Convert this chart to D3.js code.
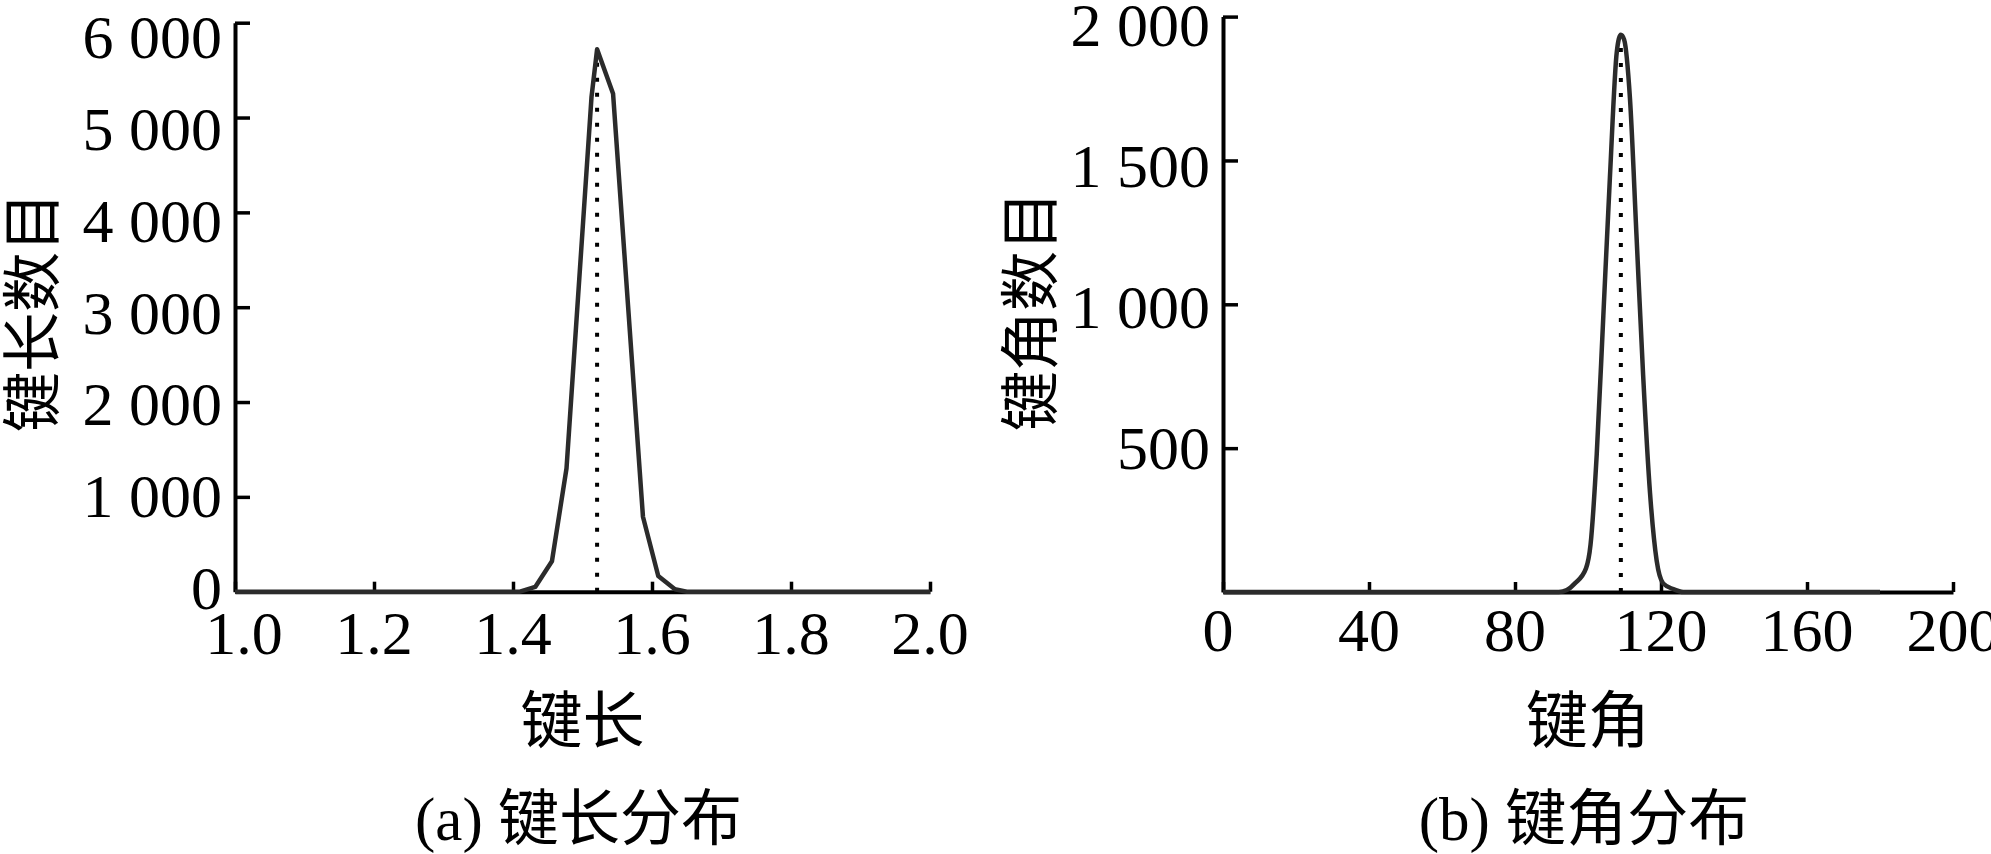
<!DOCTYPE html>
<html><head><meta charset="utf-8">
<script src="https://cdn.jsdelivr.net/npm/d3@7"></script>
<style>body{margin:0;background:#fff;overflow:hidden}</style>
</head><body>
<svg id="c" width="1991" height="854"></svg>
<script>
// ---- data ----
const lengthX     = [1.0, 1.41, 1.432, 1.456, 1.477, 1.513, 1.521, 1.544, 1.587, 1.609, 1.633, 1.65, 2.0];
const lengthCount = [0,   0,    50,    320,   1300,  5220,  5720,  5250,  790,   165,   25,    0,    0];
const lengthMean = 1.521, lengthMeanTop = 5650;
const lengthXTicks = [1.0, 1.2, 1.4, 1.6, 1.8, 2.0];
const lengthYTicks = [0, 1000, 2000, 3000, 4000, 5000, 6000];

const angleX     = [0, 92, 94.2, 96.4, 99.45, 100.7, 102.4, 104.2, 106.0, 107.9, 109.0, 109.9, 111.5, 113.3, 115.1, 117.0, 118.8, 120.6, 123.4, 126.1, 180];
const angleCount = [0, 0,  7,    30,   82,    165,   480,   960,   1440,  1879,  1937,  1920,  1715,  1235,  755,   343,   110,   30,    10,    0,     0];
const angleMean = 109.0, angleMeanTop = 1900;
const angleXTicks = [0, 40, 80, 120, 160, 200];
const angleYTicks = [500, 1000, 1500, 2000];

const fmt = d => d >= 1000 ? d3.format(",")(d).replace(",", " ") : String(d);

const svg = d3.select("#c");
const NUM = "Liberation Serif, Times New Roman, serif";
const CJK = "Liberation Serif, Noto Sans CJK SC, serif";

function panel(o) {
  const x = d3.scaleLinear().domain(o.xDomain).range(o.xRange);
  const y = d3.scaleLinear().domain(o.yDomain).range(o.yRange);
  const yLab = d3.scaleLinear().domain(o.yDomain).range(o.yLabRange);
  const g = svg.append("g");

  // axes
  const ax = g.append("g").attr("transform", `translate(0,${o.yRange[0]})`)
    .call(d3.axisBottom(x).tickValues(o.xTicks).tickSize(-10).tickSizeOuter(0).tickFormat(""));
  const ay = g.append("g").attr("transform", `translate(${o.xRange[0]},0)`)
    .call(d3.axisLeft(y).tickValues(o.yTicks).tickSize(-15).tickSizeOuter(0).tickFormat(""));
  [ax, ay].forEach(a => {
    a.select(".domain").attr("stroke", "#000").attr("stroke-width", 4);
    a.selectAll(".tick line").attr("stroke", "#000").attr("stroke-width", 3.5);
  });

  // tick labels
  g.selectAll(".xl").data(o.xTicks).join("text")
    .attr("x", d => x(d)).attr("dx", (d, i) => i === 0 ? o.firstDx : 0).attr("y", o.xLabY)
    .attr("text-anchor", "middle").attr("font-family", NUM).attr("font-size", 62)
    .attr("fill", "#000").text(o.xFmt);
  g.selectAll(".yl").data(o.yTicks).join("text")
    .attr("x", o.xRange[0] - 13).attr("y", d => yLab(d) + 21)
    .attr("text-anchor", "end").attr("font-family", NUM).attr("font-size", 62)
    .attr("fill", "#000").text(fmt);

  // mean dotted line
  g.append("line")
    .attr("x1", x(o.mean)).attr("x2", x(o.mean))
    .attr("y1", y(0)).attr("y2", y(o.meanTop))
    .attr("stroke", "#000").attr("stroke-width", 4).attr("stroke-dasharray", "4 11");

  // data line
  const pts = o.xs.map((v, i) => [v, o.ys[i]]);
  g.append("path").datum(pts)
    .attr("fill", "none").attr("stroke", "#2b2b2b").attr("stroke-width", 4.5)
    .attr("stroke-linejoin", "round")
    .attr("d", d3.line().x(d => x(d[0])).y(d => y(d[1])).curve(o.curve));

  // titles
  const cx = (o.xRange[0] + o.xRange[1]) / 2;
  g.append("text").attr("x", cx).attr("y", 743).attr("text-anchor", "middle")
    .attr("font-family", CJK).attr("font-size", 62).attr("fill", "#000").text(o.xTitle);
  g.append("text").attr("x", cx - 4).attr("y", 840).attr("text-anchor", "middle")
    .attr("font-family", CJK).attr("font-size", 61).attr("fill", "#000").text(o.caption);
  g.append("text").attr("transform", `translate(${o.yTitleX},${o.yTitleY}) rotate(-90)`)
    .attr("text-anchor", "middle")
    .attr("font-family", CJK).attr("font-size", 60).attr("fill", "#000").text(o.yTitle);
}

panel({
  xDomain: [1.0, 2.0], xRange: [235, 930],
  yDomain: [0, 6000], yRange: [591.7, 22.7], yLabRange: [588, 37],
  xTicks: lengthXTicks, yTicks: lengthYTicks, xFmt: d3.format(".1f"), xLabY: 654, firstDx: 9,
  xs: lengthX, ys: lengthCount, curve: d3.curveLinear,
  mean: lengthMean, meanTop: lengthMeanTop,
  xTitle: "键长", caption: "(a) 键长分布", yTitle: "键长数目", yTitleX: 54, yTitleY: 312
});
panel({
  xDomain: [0, 200], xRange: [1223, 1953],
  yDomain: [0, 2000], yRange: [592, 16.6], yLabRange: [589, 24.7],
  xTicks: angleXTicks, yTicks: angleYTicks, xFmt: d => String(d), xLabY: 651, firstDx: -5,
  xs: angleX, ys: angleCount, curve: d3.curveMonotoneX,
  mean: angleMean, meanTop: angleMeanTop,
  xTitle: "键角", caption: "(b) 键角分布", yTitle: "键角数目", yTitleX: 1052, yTitleY: 311
});
</script>
</body></html>
